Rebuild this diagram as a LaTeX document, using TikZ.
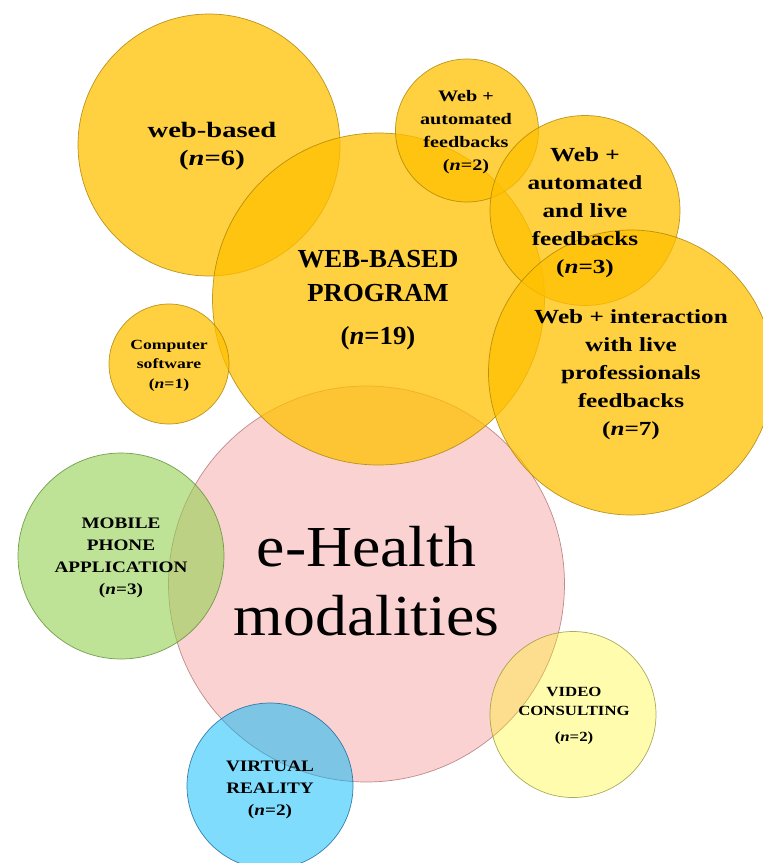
\documentclass[tikz,border=0pt]{standalone}
\usepackage{fontspec}
\setmainfont{Liberation Serif}
% widened cuts of the serif face for the bubble labels
\newfontfamily\hubface[FakeStretch=1.1]{Liberation Serif}
\newfontfamily\progface[FakeStretch=1.03]{Liberation Serif}
\newfontfamily\wbface[FakeStretch=1.3]{Liberation Serif}
\newfontfamily\lowface[FakeStretch=1.26]{Liberation Serif}
\newfontfamily\capface[FakeStretch=1.2]{Liberation Serif}
\begin{document}
\begin{tikzpicture}[x=1pt,y=-1pt,
  bubble/.style={line width=0.7pt},
  webbub/.style={bubble,fill=webfill,fill opacity=0.75,draw=webline,draw opacity=0.8},
  hubbub/.style={bubble,fill=hubfill,fill opacity=0.6,draw=hubline,draw opacity=0.7},
  mobbub/.style={bubble,fill=mobfill,fill opacity=0.6,draw=mobline,draw opacity=0.8},
  vrbub/.style={bubble,fill=vrfill,fill opacity=0.5,draw=vrline,draw opacity=0.8},
  vidbub/.style={bubble,fill=vidfill,fill opacity=0.32,draw=vidline,draw opacity=0.8},
  lbl/.style={align=center,text=black,inner sep=0pt}]
\definecolor{webfill}{RGB}{255,192,0}
\definecolor{webline}{RGB}{170,130,0}
\definecolor{hubfill}{RGB}{248,180,180}
\definecolor{hubline}{RGB}{160,100,100}
\definecolor{mobfill}{RGB}{146,208,80}
\definecolor{mobline}{RGB}{90,140,50}
\definecolor{vrfill}{RGB}{0,185,250}
\definecolor{vrline}{RGB}{20,100,150}
\definecolor{vidfill}{RGB}{255,250,0}
\definecolor{vidline}{RGB}{150,150,60}
\useasboundingbox (0,0) rectangle (763,863);
\begin{scope}
\clip (0,0) rectangle (763,863);
% central hub
\path[hubbub] (366.5,584) circle[radius=198];
% web family
\path[webbub] (209,145) circle[radius=131];
\path[webbub] (378.5,299) circle[radius=166];
\path[webbub] (467,130.5) circle[radius=71.5];
\path[webbub] (585,210.5) circle[radius=95];
\path[webbub] (631,372.5) circle[radius=142.5];
\path[webbub] (169,364) circle[radius=60];
% other modalities
\path[mobbub] (121,556) circle[radius=103];
\path[vidbub] (573,714.5) circle[radius=83];
\path[vrbub] (270,786) circle[radius=83];
\end{scope}
% labels
\node[lbl,font=\hubface\fontsize{58}{69}\selectfont] (hub) at (366.5,581.5) {e-Health\\modalities};
\node[lbl,font=\wbface\bfseries\fontsize{22}{28}\selectfont] (wb) at (212,146) {web-based\\(\textit{n}=6)};
\node[lbl,font=\progface\bfseries\fontsize{26}{34}\selectfont] (wbp) at (378,300.5) {WEB-BASED\\PROGRAM\\[9pt](\textit{n}=19)};
\node[lbl,font=\lowface\bfseries\fontsize{16}{23}\selectfont] (waf) at (466,132.5) {Web +\\automated\\feedbacks\\(\textit{n}=2)};
\node[lbl,font=\lowface\bfseries\fontsize{20}{28}\selectfont] (walf) at (585,213) {Web +\\automated\\and live\\feedbacks\\(\textit{n}=3)};
\node[lbl,font=\lowface\bfseries\fontsize{20}{28}\selectfont] (wil) at (631,375) {Web + interaction\\with live\\professionals\\feedbacks\\(\textit{n}=7)};
\node[lbl,font=\lowface\bfseries\fontsize{14}{19.5}\selectfont] (cs) at (169,365.5) {Computer\\software\\(\textit{n}=1)};
\node[lbl,font=\capface\bfseries\fontsize{16}{22}\selectfont] (mob) at (121,558) {MOBILE\\PHONE\\APPLICATION\\(\textit{n}=3)};
\node[lbl,font=\capface\bfseries\fontsize{14}{19}\selectfont] (vid) at (574,716) {VIDEO\\CONSULTING\\[7pt](\textit{n}=2)};
\node[lbl,font=\capface\bfseries\fontsize{16}{22}\selectfont] (vr) at (270,789.5) {VIRTUAL\\REALITY\\(\textit{n}=2)};
\end{tikzpicture}
\end{document}
